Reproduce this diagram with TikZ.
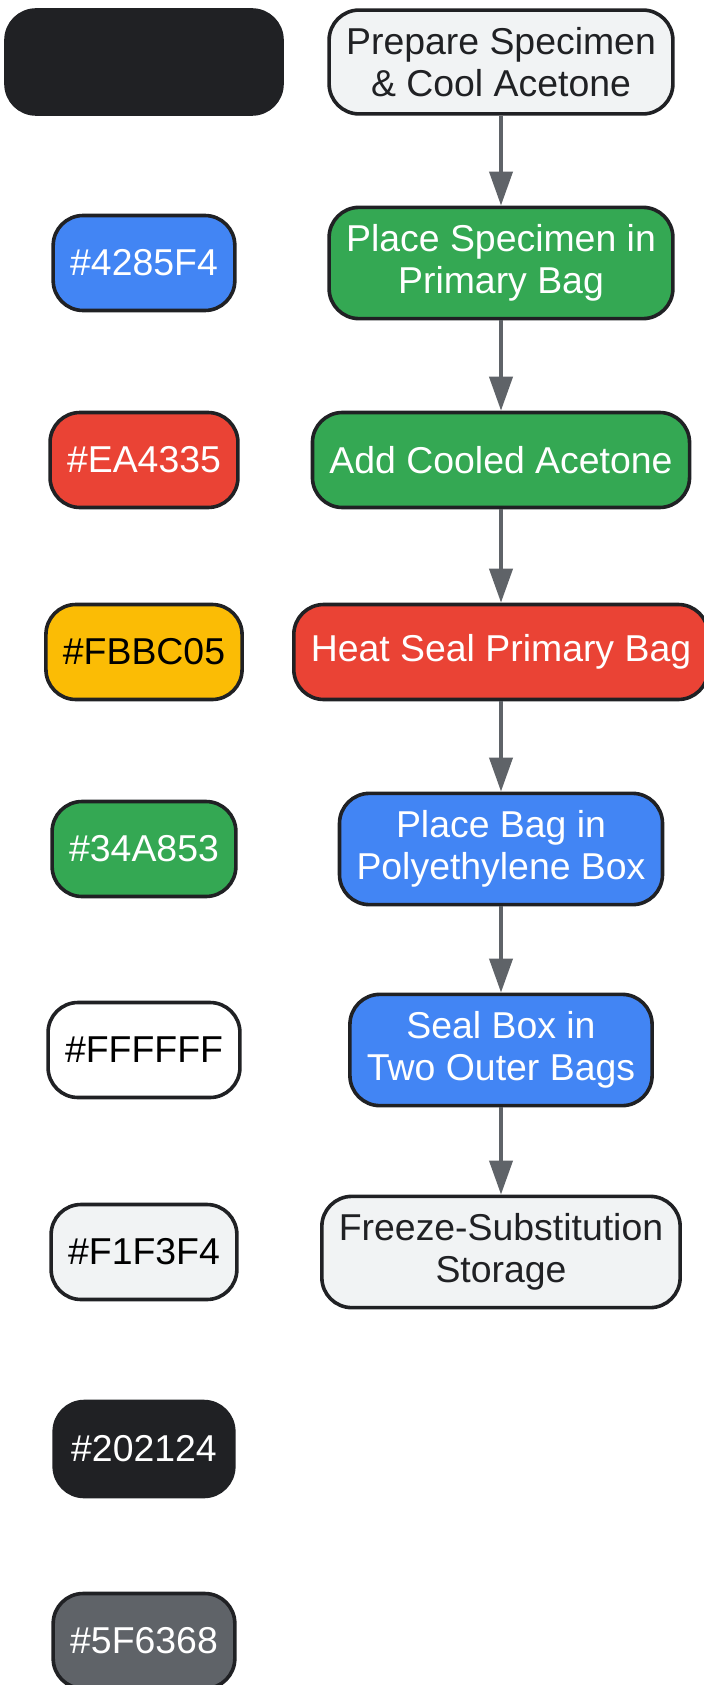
\documentclass[tikz,border=0pt]{standalone}
\usepackage{fontspec}
\setmainfont{Liberation Sans}
\usetikzlibrary{arrows.meta,positioning}

\definecolor{gblue}{HTML}{4285F4}
\definecolor{gred}{HTML}{EA4335}
\definecolor{gyellow}{HTML}{FBBC05}
\definecolor{ggreen}{HTML}{34A853}
\definecolor{glight}{HTML}{F1F3F4}
\definecolor{gdark}{HTML}{202124}
\definecolor{ggrey}{HTML}{5F6368}

\tikzset{
  stepbox/.style={draw=gdark, line width=1.8pt, rounded corners=15pt,
    align=center, inner xsep=8.5pt, inner ysep=8.5pt, minimum height=47.5pt,
    font=\fontsize{18.7pt}{21.2pt}\selectfont},
  lightbox/.style={stepbox, fill=glight, text=gdark},
  greenbox/.style={stepbox, fill=ggreen, text=white},
  bluebox/.style={stepbox, fill=gblue, text=white},
  redbox/.style={stepbox, fill=gred, text=white},
  flow/.style={draw=ggrey, line width=2pt, -{Triangle[length=17pt,width=11.5pt]}},
}

\begin{document}
\begin{tikzpicture}[x=0.5pt, y=-0.5pt]
    \useasboundingbox (0,0) rectangle (703,1685);

    % colour legend
    \node[stepbox, fill=gdark, minimum width=138pt, minimum height=52pt] (swatchDark) at (144,62) {};
    \node[bluebox] (swatchBlue) at (144,263) {\#4285F4};
    \node[redbox] (swatchRed) at (144,460) {\#EA4335};
    \node[stepbox, fill=gyellow, text=black] (swatchYellow) at (144,652) {\#FBBC05};
    \node[greenbox] (swatchGreen) at (144,849) {\#34A853};
    \node[stepbox, fill=white, text=black] (swatchWhite) at (144,1050) {\#FFFFFF};
    \node[lightbox, text=black] (swatchLight) at (144,1252) {\#F1F3F4};
    \node[stepbox, fill=gdark, text=white] (swatchBlack) at (144,1449) {\#202124};
    \node[stepbox, fill=ggrey, text=white] (swatchGrey) at (144,1641) {\#5F6368};

    % procedure
    \node[lightbox] (prepare) at (501,62) {Prepare Specimen\\\& Cool Acetone};
    \node[greenbox] (primary) at (501,263) {Place Specimen in\\Primary Bag};
    \node[greenbox] (acetone) at (501,460) {Add Cooled Acetone};
    \node[redbox] (heatseal) at (501,652) {Heat Seal Primary Bag};
    \node[bluebox] (polybox) at (501,849) {Place Bag in\\Polyethylene Box};
    \node[bluebox] (outerbags) at (501,1050) {Seal Box in\\Two Outer Bags};
    \node[lightbox] (storage) at (501,1252) {Freeze-Substitution\\Storage};

    \draw[flow] (prepare) -- (primary);
    \draw[flow] (primary) -- (acetone);
    \draw[flow] (acetone) -- (heatseal);
    \draw[flow] (heatseal) -- (polybox);
    \draw[flow] (polybox) -- (outerbags);
    \draw[flow] (outerbags) -- (storage);
\end{tikzpicture}
\end{document}
